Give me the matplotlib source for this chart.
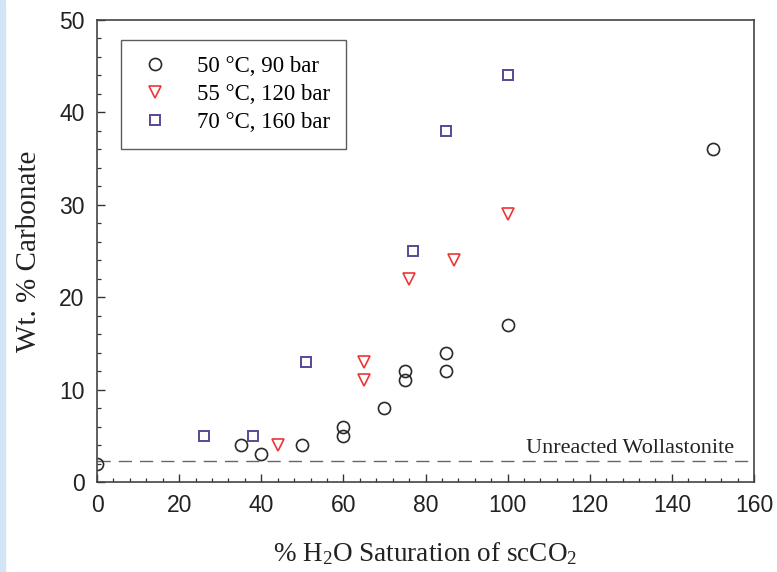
import matplotlib
matplotlib.use("Agg")
import matplotlib.pyplot as plt
from matplotlib.patches import Rectangle

plt.rcParams["mathtext.fontset"] = "custom"
plt.rcParams["mathtext.rm"] = "Liberation Serif"
plt.rcParams["mathtext.it"] = "Liberation Serif:italic"
plt.rcParams["mathtext.default"] = "rm"

# Data
x_50 = [0, 35, 40, 50, 60, 60, 70, 75, 75, 85, 85, 100, 150]
y_50 = [2, 4, 3, 4, 5, 6, 8, 11, 12, 12, 14, 17, 36]
x_55 = [44, 65, 65, 76, 87, 100]
y_55 = [4, 11, 13, 22, 24, 29]
x_70 = [26, 38, 51, 77, 85, 100]
y_70 = [5, 5, 13, 25, 38, 44]
labels = ["50 °C, 90 bar", "55 °C, 120 bar", "70 °C, 160 bar"]
baseline = 2.3
baseline_label = "Unreacted Wollastonite"

serif = ["Liberation Serif", "DejaVu Serif"]
sans = ["Liberation Sans", "DejaVu Sans"]

fig = plt.figure(figsize=(7.77, 5.72), dpi=100)
fig.patches.append(Rectangle((0, 0), 5 / 777, 1, transform=fig.transFigure,
                             color="#d3e4f7", zorder=0))
ax = fig.add_axes([97 / 777, 1 - 482 / 572, (754 - 97) / 777, (482 - 20) / 572])

ax.axhline(baseline, color="#666666", lw=1.0, dashes=(9.5, 5.8), zorder=1)
ax.text(104.5, baseline + 0.35, baseline_label, fontsize=16, family=serif,
        color="#222222", va="bottom", ha="left")

h1, = ax.plot(x_50, y_50, ls="none", marker="o", ms=8.7, mfc="none",
              mec="#2a2a2a", mew=1.2, label=labels[0])
h2, = ax.plot(x_55, y_55, ls="none", marker="v", ms=8.7, mfc="none",
              mec="#ee3535", mew=1.2, label=labels[1])
h3, = ax.plot(x_70, y_70, ls="none", marker="s", ms=7.5, mfc="none",
              mec="#5a4798", mew=1.4, label=labels[2])

ax.set_xlim(0, 160)
ax.set_ylim(0, 50)
ax.set_xticks(range(0, 161, 20))
ax.set_yticks(range(0, 51, 10))
ax.set_xticks(range(0, 161, 4), minor=True)
ax.set_yticks(range(0, 51, 2), minor=True)
ax.tick_params(which="major", direction="in", length=6, width=1.0, colors="#333333",
               labelcolor="#222222", labelsize=16.5, pad=9)
ax.tick_params(which="minor", direction="in", length=3, width=0.9, colors="#333333")
for lab in ax.get_xticklabels() + ax.get_yticklabels():
    lab.set_family(sans)
for s in ax.spines.values():
    s.set_color("#444444")
    s.set_linewidth(1.2)

ax.set_xlabel("% H$_2$O Saturation of scCO$_2$", fontsize=19.5, family=serif,
              color="#222222", labelpad=16)
ax.set_ylabel("Wt. % Carbonate", fontsize=21, family=serif, color="#222222",
              labelpad=12)

leg = ax.legend(handles=[h1, h2, h3], loc="upper left",
                bbox_to_anchor=((121 - 97) / 657, (482 - 40) / 462),
                prop={"family": serif, "size": 16.5}, frameon=True,
                fancybox=False, edgecolor="#333333", borderpad=0.7,
                handletextpad=1.0, labelspacing=0.3, borderaxespad=0,
                handlelength=1.6)
leg.get_frame().set_linewidth(1.0)

fig.savefig("out.png", dpi=100)
